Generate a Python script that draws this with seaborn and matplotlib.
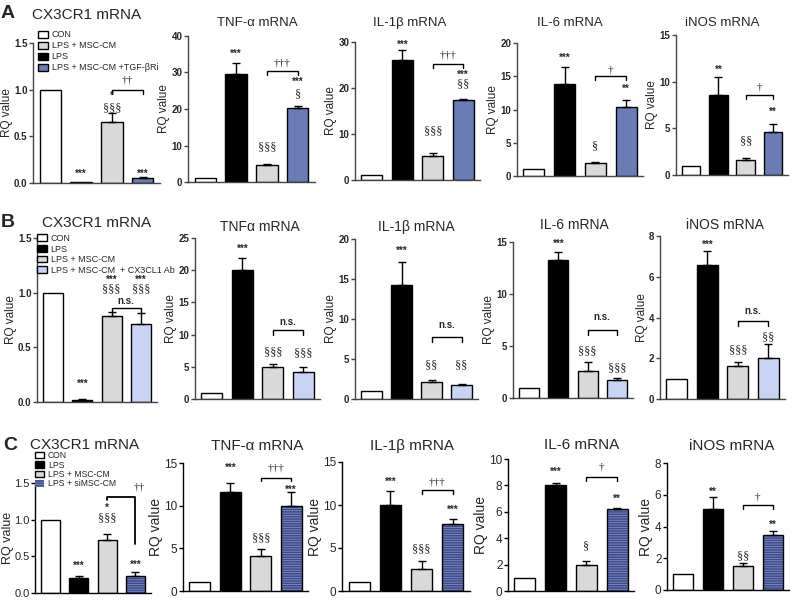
import matplotlib
matplotlib.use("Agg")
import matplotlib.pyplot as plt
from matplotlib.patches import Rectangle
import seaborn as sns

import numpy as np
import pandas as pd

sns.set_theme(style="ticks")
plt.rcParams["font.family"] = ["Liberation Sans", "DejaVu Sans"]
plt.rcParams["hatch.linewidth"] = 0.6

W, H = 793, 600

# ---- groups ----
GROUPS_A = ["CON", "LPS", "LPS + MSC-CM", "LPS + MSC-CM +TGF-βRi"]
GROUPS_B = ["CON", "LPS", "LPS + MSC-CM", "LPS + MSC-CM  + CX3CL1 Ab"]
GROUPS_C = ["CON", "LPS", "LPS + MSC-CM", "LPS + siMSC-CM"]

TITLES_A = ["CX3CR1 mRNA", "TNF-α mRNA", "IL-1β mRNA", "IL-6 mRNA", "iNOS mRNA"]
TITLES_B = ["CX3CR1 mRNA", "TNFα mRNA", "IL-1β mRNA", "IL-6 mRNA", "iNOS mRNA"]
TITLES_C = ["CX3CR1 mRNA", "TNF-α mRNA", "IL-1β mRNA", "IL-6 mRNA", "iNOS mRNA"]

# ---- row A values (mean, upper error) ----
a_cx3cr1 = [1.0, 0.01, 0.65, 0.05]
a_cx3cr1_err = [0, 0, 0.10, 0.01]
a_tnf = [1.0, 29.5, 4.6, 20.3]
a_tnf_err = [0, 3.0, 0.4, 0.4]
a_il1b = [1.0, 26.0, 5.2, 17.4]
a_il1b_err = [0, 2.2, 0.6, 0.2]
a_il6 = [1.0, 13.8, 2.0, 10.45]
a_il6_err = [0, 2.6, 0.05, 1.05]
a_inos = [1.0, 8.6, 1.6, 4.65]
a_inos_err = [0, 1.9, 0.2, 0.85]

# ---- row B values ----
b_cx3cr1 = [1.0, 0.02, 0.79, 0.71]
b_cx3cr1_err = [0, 0.005, 0.03, 0.10]
b_tnf = [1.0, 20.0, 4.9, 4.2]
b_tnf_err = [0, 1.9, 0.6, 0.7]
b_il1b = [1.0, 14.3, 2.1, 1.75]
b_il1b_err = [0, 2.8, 0.3, 0.15]
b_il6 = [1.0, 13.3, 2.6, 1.75]
b_il6_err = [0, 0.7, 0.9, 0.15]
b_inos = [1.0, 6.6, 1.63, 2.0]
b_inos_err = [0, 0.65, 0.17, 0.68]

# ---- row C values ----
c_cx3cr1 = [1.0, 0.21, 0.72, 0.23]
c_cx3cr1_err = [0, 0.02, 0.08, 0.05]
c_tnf = [1.0, 11.6, 4.1, 10.0]
c_tnf_err = [0, 1.1, 0.8, 1.6]
c_il1b = [1.0, 10.0, 2.6, 7.8]
c_il1b_err = [0, 1.6, 0.9, 0.6]
c_il6 = [1.0, 8.05, 1.95, 6.2]
c_il6_err = [0, 0.1, 0.3, 0.07]
c_inos = [1.0, 5.1, 1.5, 3.45]
c_inos_err = [0, 0.75, 0.17, 0.27]

# ---- y axis ranges (max, step) ----
YAX_A = [(1.5, 0.5), (40, 10), (30, 10), (20, 5), (15, 5)]
YAX_B = [(1.5, 0.5), (25, 5), (20, 5), (15, 5), (8, 2)]
YAX_C = [(1.5, 0.5), (15, 5), (15, 5), (10, 2), (8, 2)]

# ---- significance marks: (bar, y, text) and brackets: (x1, x2, y, text, text_y) ----
MARKS_A = [
    [(1, 0.1, "***"), (2, 0.93, "*"), (2, 0.8, "§§§"), (3, 0.1, "***")],
    [(1, 35, "***"), (2, 9.5, "§§§"), (3, 27.5, "***"), (3, 24, "§")],
    [(1, 29.3, "***"), (2, 10.5, "§§§"), (3, 22.9, "***"), (3, 20.8, "§§")],
    [(1, 17.7, "***"), (2, 4.4, "§"), (3, 13.1, "**")],
    [(1, 11.3, "**"), (2, 3.6, "§§"), (3, 6.8, "**")],
]
BRACKETS_A = [(2, 3, 1.0, "††", 1.1), (2, 3, 30.5, "†††", 32.6), (2, 3, 25.3, "†††", 27.2),
              (2, 3, 15.0, "†", 16.0), (2, 3, 8.6, "†", 9.4)]
MARKS_B = [
    [(1, 0.17, "***"), (2, 1.12, "***"), (2, 1.03, "§§§"), (3, 1.12, "***"), (3, 1.03, "§§§")],
    [(1, 23.3, "***"), (2, 7.3, "§§§"), (3, 7.1, "§§§")],
    [(1, 18.5, "***"), (2, 4.25, "§§"), (3, 4.25, "§§")],
    [(1, 14.8, "***"), (2, 4.5, "§§§"), (3, 2.9, "§§§")],
    [(1, 7.55, "***"), (2, 2.4, "§§§"), (3, 3.05, "§§")],
]
BRACKETS_B = [(2, 3, 0.86, "n.s.", 0.92), (2, 3, 10.7, "n.s.", 12.0), (2, 3, 7.7, "n.s.", 9.2),
              (2, 3, 6.5, "n.s.", 7.8), (2, 3, 3.82, "n.s.", 4.3)]
MARKS_C = [
    [(1, 0.37, "***"), (2, 1.16, "*"), (2, 1.02, "§§§"), (3, 0.38, "***")],
    [(1, 14.4, "***"), (2, 6.2, "§§§"), (3, 11.9, "***")],
    [(1, 12.7, "***"), (2, 4.8, "§§§"), (3, 9.4, "***")],
    [(1, 9.06, "***"), (2, 3.4, "§"), (3, 7.0, "**")],
    [(1, 6.2, "**"), (2, 2.1, "§§"), (3, 4.1, "**")],
]
BRACKETS_C = [(2, 3, 1.31, "††", 1.44), (2, 3, 13.3, "†††", 14.4), (2, 3, 11.7, "†††", 12.7),
              (2, 3, 8.6, "†", 9.4), (2, 3, 5.35, "†", 5.85)]

# ---- layout in pixels: (x0, x1, ytop, ybottom) ----
BOX_A = [(33, 160, 43, 183), (188, 315, 36, 182), (355, 480, 42, 180), (517, 643, 43, 176), (676, 788, 35, 175)]
BOX_B = [(37, 157, 238, 402), (195, 320, 238, 399), (355, 478, 239, 399), (513, 633, 242, 398), (660, 785, 236, 399)]
BOX_C = [(35, 151, 483, 593), (183, 308, 463, 591), (342, 470, 462, 591), (508, 634, 459, 591), (667, 789, 463, 590)]
TITLE_POS_A = [(87, 15, 11), (257, 23, 9.5), (410, 23, 9.5), (570, 23, 9.5), (722, 23, 9.5)]
TITLE_POS_B = [(97, 223, 11), (260, 227, 10), (416, 227, 10), (574, 225, 10), (725, 225, 10)]
TITLE_POS_C = [(85, 445, 11), (257, 446, 11), (412, 446, 11), (582, 445, 11), (732, 446, 11)]

COLORS_A = ["white", "black", "#d9d9d9", "#6a7cb6"]
COLORS_B = ["white", "black", "#d9d9d9", "#c8d3f6"]
COLORS_C = ["white", "black", "#d9d9d9", "#3e4a85"]

SERIF = ["Liberation Serif", "DejaVu Serif"]


def draw_panel(fig, box, groups, colors, means, errs, yax, title, title_pos, marks, bracket, row):
    x0, x1, y0, y1 = box
    ax = fig.add_axes([x0 / W, 1 - y1 / H, (x1 - x0) / W, (y1 - y0) / H])
    df = pd.DataFrame({"group": groups, "value": means})
    sns.barplot(data=df, x="group", y="value", hue="group", order=groups, hue_order=groups,
                palette=colors, saturation=1, edgecolor="black", linewidth=1, width=0.68,
                errorbar=None, legend=False, ax=ax)

    if row == "C":
        p = ax.patches[3]
        p.set_hatch("-------")
        p.set_edgecolor("#7f8fcc")
        p.set_linewidth(0)
        ax.add_patch(Rectangle(p.get_xy(), p.get_width(), p.get_height(), fill=False,
                               edgecolor="black", linewidth=1, zorder=p.get_zorder() + 0.1))

    xs = np.arange(len(means))
    means = np.asarray(means)
    errs = np.asarray(errs)
    keep = errs > 0
    ax.errorbar(xs[keep], means[keep], yerr=[np.zeros(keep.sum()), errs[keep]], fmt="none",
                ecolor="black", elinewidth=1, capsize=3, capthick=1, zorder=5)

    ymax, ystep = yax
    ax.set_ylim(0, ymax)
    ax.set_xlim(-0.55, 3.55)
    ticks = np.arange(0, ymax + ystep / 2, ystep)
    ax.set_yticks(ticks)
    if ymax < 2:
        ax.set_yticklabels([f"{t:.1f}" for t in ticks])
    else:
        ax.set_yticklabels([f"{t:g}" for t in ticks])
    ax.set_xticks([])
    ax.set_xlabel("")

    spine_col = "black" if row == "C" else "#444444"
    sns.despine(ax=ax)
    for s in ["left", "bottom"]:
        ax.spines[s].set_color(spine_col)
        ax.spines[s].set_linewidth(1)
    if row == "C":
        if ymax < 2:
            ax.tick_params(axis="y", length=3, width=1, color=spine_col, labelsize=8, pad=1)
            ax.set_ylabel("RQ value", fontsize=9, labelpad=0)
        else:
            ax.tick_params(axis="y", length=3, width=1, color=spine_col, labelsize=8.5, pad=1)
            ax.set_ylabel("RQ value", fontsize=10, labelpad=1)
    else:
        ax.tick_params(axis="y", length=3, width=1, color=spine_col, labelsize=7, pad=1)
        for lab in ax.get_yticklabels():
            lab.set_fontweight("bold")
        ax.set_ylabel("RQ value", fontsize=8.5, labelpad=1)

    tx, ty, tsize = title_pos
    fig.text(tx / W, 1 - ty / H, title, ha="center", va="center", fontsize=tsize)

    for bar, y, text in marks:
        if "*" in text:
            ax.text(bar, y, text, ha="center", va="center", fontsize=7, fontweight="bold")
        else:
            ax.text(bar, y, text, ha="center", va="center", fontsize=9, family=SERIF)

    bx1, bx2, by, btxt, bty = bracket
    leg = ymax * 0.03
    if row == "C" and ymax < 2:
        ax.plot([bx1, bx1, bx2, bx2], [by - leg, by, by, by - ymax * 0.43], color="black", lw=1.3)
        ax.text(bx2 + 0.15, bty, btxt, ha="center", va="center", fontsize=8, family=SERIF)
    else:
        ax.plot([bx1, bx1, bx2, bx2], [by - leg, by, by, by - leg], color="black", lw=1)
        if btxt == "n.s.":
            ax.text((bx1 + bx2) / 2, bty, btxt, ha="center", va="center", fontsize=7, fontweight="bold")
        else:
            ax.text((bx1 + bx2) / 2, bty, btxt, ha="center", va="center", fontsize=8, family=SERIF)
    return ax


def add_legend(ax, groups, order, anchor, spacing, size):
    handles = [ax.patches[i] for i in order]
    labels = [groups[i] for i in order]
    ax.legend(handles, labels, loc="upper left", bbox_to_anchor=anchor, frameon=False, fontsize=size,
              handlelength=1.1, handleheight=0.8, handletextpad=0.4, labelspacing=spacing,
              borderpad=0, borderaxespad=0)


fig = plt.figure(figsize=(W / 100, H / 100), dpi=100)

rows = [
    ("A", GROUPS_A, COLORS_A, [a_cx3cr1, a_tnf, a_il1b, a_il6, a_inos],
     [a_cx3cr1_err, a_tnf_err, a_il1b_err, a_il6_err, a_inos_err], YAX_A, TITLES_A, TITLE_POS_A,
     MARKS_A, BRACKETS_A, BOX_A),
    ("B", GROUPS_B, COLORS_B, [b_cx3cr1, b_tnf, b_il1b, b_il6, b_inos],
     [b_cx3cr1_err, b_tnf_err, b_il1b_err, b_il6_err, b_inos_err], YAX_B, TITLES_B, TITLE_POS_B,
     MARKS_B, BRACKETS_B, BOX_B),
    ("C", GROUPS_C, COLORS_C, [c_cx3cr1, c_tnf, c_il1b, c_il6, c_inos],
     [c_cx3cr1_err, c_tnf_err, c_il1b_err, c_il6_err, c_inos_err], YAX_C, TITLES_C, TITLE_POS_C,
     MARKS_C, BRACKETS_C, BOX_C),
]

first_axes = {}
for row, groups, colors, means, errs, yax, titles, tpos, marks, brackets, boxes in rows:
    for i in range(5):
        ax = draw_panel(fig, boxes[i], groups, colors, means[i], errs[i], yax[i], titles[i], tpos[i],
                        marks[i], brackets[i], row)
        if i == 0:
            first_axes[row] = ax

add_legend(first_axes["A"], GROUPS_A, [0, 2, 1, 3], (0.04, 1.09), 0.22, 6.5)
add_legend(first_axes["B"], GROUPS_B, [0, 1, 2, 3], (0.0, 1.025), 0.18, 6.5)
add_legend(first_axes["C"], GROUPS_C, [0, 1, 2, 3], (0.0, 1.29), 0.05, 6.2)

for letter, (x, y) in zip(["A", "B", "C"], [(8, 13), (8, 223), (10, 445)]):
    fig.text(x / W, 1 - y / H, letter, ha="center", va="center", fontsize=14, fontweight="bold")

fig.savefig("out.png", dpi=100)
